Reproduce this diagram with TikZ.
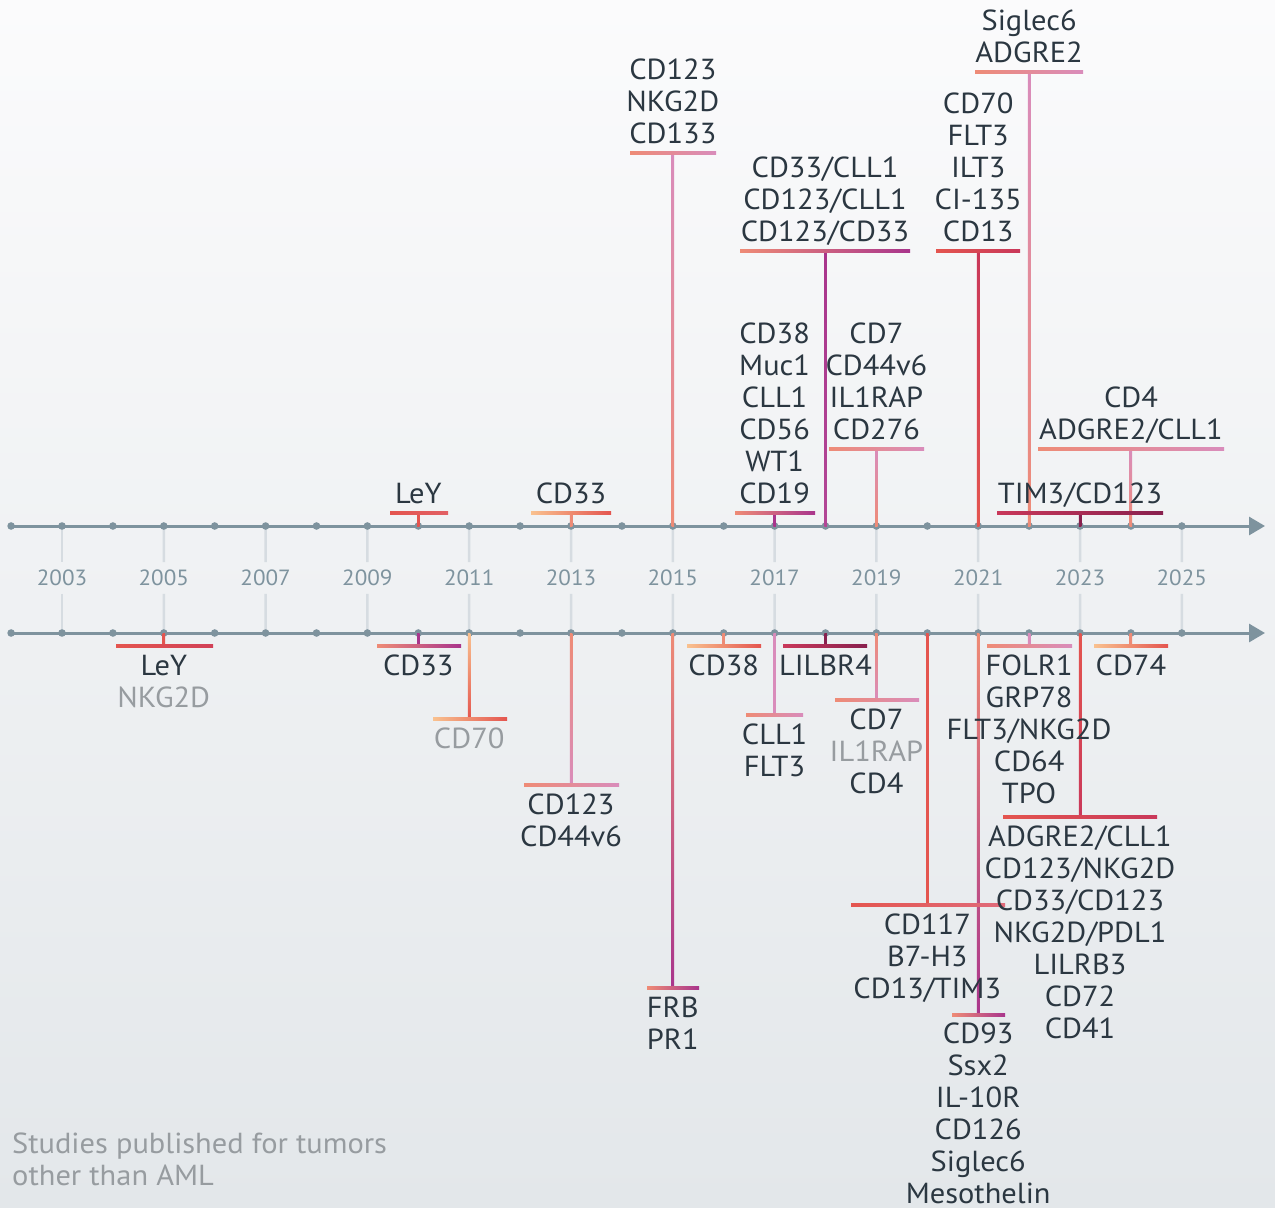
\documentclass[tikz,border=0pt]{standalone}
\usepackage{fontspec}
\setmainfont[FakeStretch=1.05]{PT Sans}
\usetikzlibrary{arrows.meta}

\definecolor{txt}{HTML}{2B3741}
\definecolor{grey}{HTML}{979CA0}
\definecolor{axis}{HTML}{7E939E}
\definecolor{tick}{HTML}{D6DCE1}
\definecolor{bgtop}{HTML}{FBFBFC}
\definecolor{bgbot}{HTML}{E3E7EA}
\definecolor{lorange}{HTML}{F9C18F}
\definecolor{salmon}{HTML}{EE8B76}
\definecolor{coral}{HTML}{E4554F}
\definecolor{crimson}{HTML}{C9385A}
\definecolor{plum}{HTML}{A9358C}
\definecolor{rose}{HTML}{D98CBB}
\definecolor{wine}{HTML}{88204E}

\tikzset{
  lbl/.style={font=\fontsize{29}{32}\selectfont, text=txt, inner sep=0pt},
  yr/.style={font=\fontsize{22}{24}\selectfont, text=axis, inner sep=0pt, outer sep=8pt},
  axisline/.style={draw=axis, line width=3pt, -{Triangle[length=16pt,width=18pt]}},
  yeartick/.style={draw=tick, line width=2.5pt},
  note/.style={font=\fontsize{29}{32}\selectfont, text=grey, inner sep=0pt}
}
\newcommand{\uplines}[1]{\begin{tabular}[b]{@{}c@{}}#1\end{tabular}}
\newcommand{\dnlines}[1]{\begin{tabular}[t]{@{}c@{}}#1\end{tabular}}
\newcommand{\greytext}[1]{\textcolor{grey}{#1}}
\newcommand{\tbar}[5]{\shade[left color=#4,right color=#5] (#1,#3-1.6) rectangle (#2,#3+1.6);}
\newcommand{\tstem}[4]{\shade[top color=#3,bottom color=#4] ([xshift=-1.25pt]#1) rectangle ([xshift=1.25pt]#2);}

\begin{document}
\begin{tikzpicture}[x=1pt,y=-1pt]
    % background
    \shade[top color=bgtop, bottom color=bgbot] (0,0) rectangle (1275,1208);
    \useasboundingbox (0,0) rectangle (1275,1208);

    % years and ticks
    \foreach \i in {0,...,23} {
      \pgfmathtruncatemacro\yy{2002+\i}
      \coordinate (u\yy) at (11.1+50.9*\i,526);
      \coordinate (w\yy) at (11.1+50.9*\i,633);
    }
    \foreach \y [count=\i from 0] in {2003,2005,...,2025} {
      \node[yr] (y\y) at (62+101.8*\i,578) {\y};
      \draw[yeartick] (u\y) -- (y\y);
      \draw[yeartick] (y\y) -- (w\y);
    }

    % the two axes
    \coordinate (s1) at (11,526);
    \coordinate (e1) at (1265,526);
    \coordinate (s2) at (11,633);
    \coordinate (e2) at (1265,633);
    \draw[axisline] (s1) -- (e1);
    \draw[axisline] (s2) -- (e2);
    \foreach \i in {2002,...,2025} {
      \fill[axis] (u\i) circle (3.8);
      \fill[axis] (w\i) circle (3.8);
    }

    % top side
    \coordinate (ta10) at (418.3,513);
    \coordinate (ta13) at (571.0,513);
    \coordinate (ta15) at (672.8,153);
    \coordinate (ta17) at (774.6,513);
    \coordinate (ta18) at (825.5,251);
    \coordinate (ta19) at (876.4,449);
    \coordinate (ta21) at (978.2,251);
    \coordinate (ta22) at (1029.1,72);
    \coordinate (ta23) at (1080.0,513);
    \coordinate (ta24) at (1130.9,449);
    \tstem{ta10}{u2010}{coral}{coral}
    \tstem{ta13}{u2013}{salmon}{salmon}
    \tstem{ta15}{u2015}{rose}{salmon}
    \tstem{ta17}{u2017}{plum}{plum}
    \tstem{ta18}{u2018}{plum}{plum!80!rose}
    \tstem{ta19}{u2019}{rose}{salmon}
    \tstem{ta21}{u2021}{crimson}{coral}
    \tstem{ta22}{u2022}{rose}{salmon}
    \tstem{ta23}{u2023}{wine}{wine}
    \tstem{ta24}{u2024}{rose}{salmon}
    \tbar{390}{448}{513}{coral}{coral!80!rose}
    \tbar{531}{611}{513}{lorange}{coral}
    \tbar{630}{716}{153}{salmon}{rose}
    \tbar{735}{815}{513}{salmon}{plum}
    \tbar{740}{910}{251}{salmon}{plum}
    \tbar{829}{924}{449}{salmon}{rose}
    \tbar{936}{1020}{251}{coral}{crimson}
    \tbar{975}{1083}{72}{salmon}{rose}
    \tbar{997}{1163}{513}{crimson}{wine}
    \tbar{1038}{1224}{449}{salmon}{rose}
    \node[lbl, anchor=base] (t10) at (418.3,503) {\uplines{LeY}};
    \node[lbl, anchor=base] (t13) at (571.0,503) {\uplines{CD33}};
    \node[lbl, anchor=base] (t15) at (672.8,143) {\uplines{CD123\\NKG2D\\CD133}};
    \node[lbl, anchor=base] (t17) at (774.6,503) {\uplines{CD38\\Muc1\\CLL1\\CD56\\WT1\\CD19}};
    \node[lbl, anchor=base] (t18) at (825.0,241) {\uplines{CD33/CLL1\\CD123/CLL1\\CD123/CD33}};
    \node[lbl, anchor=base] (t19) at (876.4,439) {\uplines{CD7\\CD44v6\\IL1RAP\\CD276}};
    \node[lbl, anchor=base] (t21) at (978.2,241) {\uplines{CD70\\FLT3\\ILT3\\CI-135\\CD13}};
    \node[lbl, anchor=base] (t22) at (1029.1,62) {\uplines{Siglec6\\ADGRE2}};
    \node[lbl, anchor=base] (t23) at (1080.0,503) {\uplines{TIM3/CD123}};
    \node[lbl, anchor=base] (t24) at (1131.0,439) {\uplines{CD4\\ADGRE2/CLL1}};

    % bottom side
    \coordinate (ba05) at (163.8,646);
    \coordinate (ba10) at (418.3,646);
    \coordinate (ba11) at (469.2,719);
    \coordinate (ba13) at (571.0,785);
    \coordinate (ba15) at (672.8,988);
    \coordinate (ba16) at (723.7,646);
    \coordinate (ba17) at (774.6,715);
    \coordinate (ba18) at (825.5,646);
    \coordinate (ba19) at (876.4,700);
    \coordinate (ba20) at (927.3,905);
    \coordinate (ba21) at (978.2,1015);
    \coordinate (ba22) at (1029.1,646);
    \coordinate (ba23) at (1080.0,817);
    \coordinate (ba24) at (1130.9,646);
    \tstem{w2005}{ba05}{coral}{coral}
    \tstem{w2010}{ba10}{plum}{plum}
    \tstem{w2011}{ba11}{lorange}{coral}
    \tstem{w2013}{ba13}{salmon}{rose}
    \tstem{w2015}{ba15}{salmon}{plum}
    \tstem{w2016}{ba16}{salmon}{salmon}
    \tstem{w2017}{ba17}{rose}{rose}
    \tstem{w2018}{ba18}{wine}{wine}
    \tstem{w2019}{ba19}{salmon}{rose}
    \tstem{w2020}{ba20}{coral}{coral}
    \tstem{w2021}{ba21}{salmon}{plum}
    \tstem{w2022}{ba22}{rose}{rose}
    \tstem{w2023}{ba23}{coral}{crimson}
    \tstem{w2024}{ba24}{salmon}{salmon}
    \tbar{116}{213}{646}{coral}{crimson!70!coral}
    \tbar{377}{461}{646}{salmon}{plum}
    \tbar{433}{507}{719}{lorange}{coral}
    \tbar{524}{619}{785}{salmon}{rose}
    \tbar{647}{699}{988}{salmon}{plum}
    \tbar{687}{761}{646}{lorange}{coral}
    \tbar{746}{803}{715}{salmon}{rose}
    \tbar{783}{867}{646}{crimson}{wine}
    \tbar{835}{919}{700}{salmon}{rose}
    \tbar{851}{1005}{905}{coral}{coral!60!rose}
    \tbar{952}{1005}{1015}{salmon}{plum}
    \tbar{987}{1072}{646}{salmon}{rose}
    \tbar{1003}{1157}{817}{coral}{crimson}
    \tbar{1094}{1168}{646}{lorange}{coral}
    \node[lbl, anchor=base] (b05) at (163.8,675) {\dnlines{LeY\\\greytext{NKG2D}}};
    \node[lbl, anchor=base] (b10) at (418.3,675) {\dnlines{CD33}};
    \node[lbl, anchor=base] (b11) at (469.2,748) {\dnlines{\greytext{CD70}}};
    \node[lbl, anchor=base] (b13) at (571.0,814) {\dnlines{CD123\\CD44v6}};
    \node[lbl, anchor=base] (b15) at (672.8,1017) {\dnlines{FRB\\PR1}};
    \node[lbl, anchor=base] (b16) at (723.7,675) {\dnlines{CD38}};
    \node[lbl, anchor=base] (b17) at (774.6,744) {\dnlines{CLL1\\FLT3}};
    \node[lbl, anchor=base] (b18) at (825.5,675) {\dnlines{LILBR4}};
    \node[lbl, anchor=base] (b19) at (876.4,729) {\dnlines{CD7\\\greytext{IL1RAP}\\CD4}};
    \node[lbl, anchor=base] (b20) at (927.3,934) {\dnlines{CD117\\B7-H3\\CD13/TIM3}};
    \node[lbl, anchor=base] (b21) at (978.2,1043) {\dnlines{CD93\\Ssx2\\IL-10R\\CD126\\Siglec6\\Mesothelin}};
    \node[lbl, anchor=base] (b22) at (1029.1,675) {\dnlines{FOLR1\\GRP78\\FLT3/NKG2D\\CD64\\TPO}};
    \node[lbl, anchor=base] (b23) at (1080.0,846) {\dnlines{ADGRE2/CLL1\\CD123/NKG2D\\CD33/CD123\\NKG2D/PDL1\\LILRB3\\CD72\\CD41}};
    \node[lbl, anchor=base] (b24) at (1130.9,675) {\dnlines{CD74}};

    % legend note
    \node[note, anchor=base west] (n) at (12,1153) {\begin{tabular}[t]{@{}l@{}}Studies published for tumors\\other than AML\end{tabular}};
\end{tikzpicture}
\end{document}
